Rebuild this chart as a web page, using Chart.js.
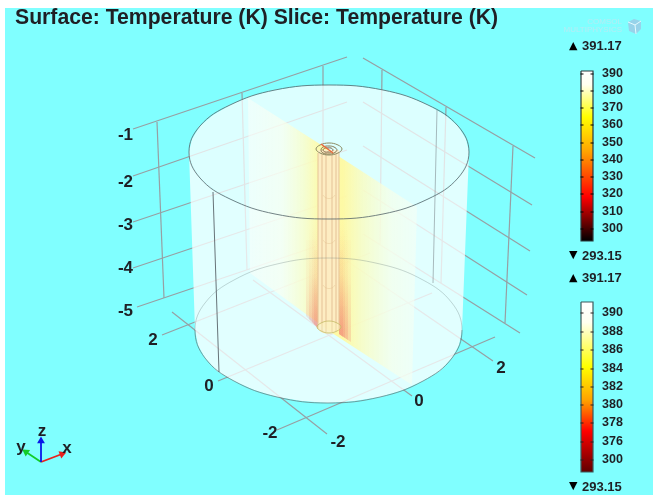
<!DOCTYPE html>
<html>
<head>
<meta charset="utf-8">
<script src="https://cdn.jsdelivr.net/npm/chart.js@4"></script>
<style>
    html, body { margin: 0; padding: 0; background: #fff; width: 653px; height: 495px; overflow: hidden; }
    #backdrop { position: absolute; left: 5px; top: 8px; width: 648px; height: 487px; background: #80ffff; }
    #plot { position: absolute; left: 0; top: 0; }
</style>
</head>
<body>
<div id="backdrop"></div>
<canvas id="plot" width="653" height="495"></canvas>
<script>
const titleText = 'Surface: Temperature (K) Slice: Temperature (K)';

const zTicks = ['-1', '-2', '-3', '-4', '-5'];
const zTickAt = [[133, 135], [133, 182], [133, 225], [133, 268], [133, 311]];
const floorTicks = ['2', '0', '-2', '-2', '0', '2'];
const floorTickAt = [[153, 340], [209, 386], [270, 433], [338, 442], [419, 401], [501, 368]];

const surfaceTicks = ['390', '380', '370', '360', '350', '340', '330', '320', '310', '300'];
const surfaceTickY = [74, 91, 108, 125, 143, 160, 177, 194, 212, 229];
const sliceTicks = ['390', '388', '386', '384', '382', '380', '378', '376', '300'];
const sliceTickY = [313, 332, 350, 369, 387, 405, 423, 442, 460];
const maxLabel = '391.17';
const minLabel = '293.15';

const leftWallLines = [
    [[133, 129], [347, 57]], [[133, 176], [347, 102]], [[133, 222], [347, 150]],
    [[133, 268], [347, 196]], [[137, 307], [347, 236]],
    [[157, 122], [164, 298]], [[242, 93], [247, 270]], [[323, 66], [323, 243]],
];
const rightWallLines = [
    [[363, 58], [535, 158]], [[363, 102], [532, 205]], [[363, 146], [530, 251]],
    [[363, 190], [527, 295]], [[363, 234], [520, 333]],
    [[382, 70], [380, 245]], [[446, 107], [441, 283]], [[513, 146], [505, 323]],
];
const floorLines = [
    [[162, 335], [370, 253]], [[218, 381], [432, 293]], [[277, 430], [495, 337]],
    [[172, 312], [327, 434]], [[253, 280], [412, 396]], [[347, 261], [493, 361]],
];

// rims run one step past each end, those end steps are hidden so the curve closes clean
const topRim = [[458, 126], [469, 152], [458, 178], [428, 199], [383, 214], [329, 219], [275, 214], [230, 199], [200, 178],
    [189, 152], [200, 126], [230, 105], [275, 90], [329, 85], [383, 90], [428, 105], [458, 126], [469, 152], [458, 178]];
const bottomRimBack = [[205, 358], [195, 330], [205, 303], [234, 280], [277, 264], [328, 258], [380, 264], [423, 280], [452, 303], [462, 330], [452, 358]];
const bottomRimFront = [[452, 303], [462, 330], [452, 358], [423, 381], [380, 397], [328, 403], [277, 397], [234, 381], [205, 358], [195, 330], [205, 303]];
const topDisc = [[469, 152], [466, 165], [458, 178], [445, 189], [428, 199], [407, 208], [383, 214], [356, 218], [329, 219],
    [302, 218], [275, 214], [251, 208], [230, 199], [213, 189], [200, 178], [192, 165], [189, 152],
    [192, 139], [200, 126], [213, 115], [230, 105], [251, 96], [275, 90], [302, 86], [329, 85],
    [356, 86], [383, 90], [407, 96], [428, 105], [445, 115], [458, 126], [466, 139], [469, 152]];
const shellOutline = [[189, 152], [192, 165], [200, 178], [213, 189], [230, 199], [251, 208], [275, 214], [302, 218], [329, 219],
    [356, 218], [383, 214], [407, 208], [428, 199], [445, 189], [458, 178], [466, 165], [469, 152],
    [462, 330], [459, 345], [452, 358], [440, 371], [423, 381], [403, 390], [380, 397], [354, 401], [328, 403],
    [302, 401], [277, 397], [254, 390], [234, 381], [217, 371], [205, 358], [198, 345], [195, 330], [189, 152]];
const shellEdgeLeft = [[213, 192], [219, 372]];
const shellEdgeRight = [[437, 110], [433, 283]];

const slicePlane = [[248, 98], [329, 150], [417, 207], [412, 385], [329, 331], [250, 273], [248, 98]];
const hotBands = [
    [[[306, 240], [318, 240], [318, 328], [306, 316]], [[339, 240], [351, 240], [351, 342], [339, 334]]],
    [[[309, 230], [318, 230], [318, 328], [309, 319]], [[339, 230], [348, 230], [348, 340], [339, 334]]],
    [[[312, 220], [318, 220], [318, 328], [312, 322]], [[339, 220], [345, 220], [345, 338], [339, 334]]],
    [[[314, 250], [318, 250], [318, 328], [314, 324]], [[339, 250], [343, 250], [343, 337], [339, 334]]],
];

const tubeBody = [[318, 150], [318, 150], [339, 150], [339, 150], [339, 329], [339, 329], [334, 333], [323, 333], [318, 329], [318, 329], [318, 150]];
const tubeRibs = [[[318, 153], [318, 329]], [[322, 154], [322, 331]], [[326, 155], [326, 332]], [[332, 155], [332, 332]], [[336, 154], [336, 331]], [[339, 153], [339, 329]]];
const tubeHoops = [
    [[323, 195], [326, 198], [332, 198], [335, 195]],
    [[323, 240], [326, 243], [332, 243], [335, 240]],
    [[323, 285], [326, 288], [332, 288], [335, 285]],
];
const ringOuter = [[338, 145], [342, 149], [338, 153], [329, 155], [320, 153], [316, 149], [320, 145], [329, 143], [338, 145], [342, 149], [338, 153]];
const ringMiddle = [[334, 147], [337, 150], [334, 153], [329, 154], [323, 153], [321, 150], [323, 147], [329, 146], [334, 147], [337, 150], [334, 153]];
const ringInner = [[331, 148], [333, 150], [331, 152], [328, 152], [325, 152], [323, 150], [325, 148], [328, 148], [331, 148], [333, 150], [331, 152]];
const ringCut = [[321, 144], [333, 153]];
const footOuter = [[337, 323], [341, 327], [337, 331], [329, 333], [321, 331], [317, 327], [321, 323], [329, 321], [337, 323], [341, 327], [337, 331]];

const surfaceBar = [[581, 71], [593, 71], [593, 241], [581, 241], [581, 71]];
const sliceBar = [[581, 302], [593, 302], [593, 472], [581, 472], [581, 302]];

const triadOrigin = [41, 462];
const triadTips = { x: [62, 454], y: [26, 452], z: [41, 441] };

const logoCube = [[628, 22], [634, 19], [641, 21], [641, 29], [636, 34], [629, 31], [628, 22]];
const logoCubeEdges = [[[628, 22], [635, 25], [641, 21]], [[635, 25], [636, 34]]];

// --- helpers ---
const toPoints = (list) => list.map(([x, y]) => ({ x: x, y: y }));

const layers = [];
function addLayer(list, options) {
    layers.push(Object.assign({
        data: toPoints(list),
        showLine: true,
        pointRadius: 0,
        borderWidth: 1,
        borderColor: 'rgba(0,0,0,0)',
        fill: false,
        tension: 0,
        order: -layers.length,
    }, options));
}

// a smooth curve whose first and last steps are only there to shape the ends
function addCurve(list, color) {
    const lastIndex = list.length - 1;
    addLayer(list, {
        borderColor: color,
        tension: 0.4,
        segment: {
            borderColor: (ctx) => (ctx.p0DataIndex === 0 || ctx.p1DataIndex === lastIndex ? 'rgba(0,0,0,0)' : undefined),
        },
    });
}

function verticalGradient(y0, y1, stops) {
    return function (context) {
        const chart = context.chart;
        if (!chart.chartArea) {
            return 'rgba(0,0,0,0)';
        }
        const sy = chart.scales.y;
        const g = chart.ctx.createLinearGradient(0, sy.getPixelForValue(y0), 0, sy.getPixelForValue(y1));
        stops.forEach((s) => g.addColorStop(s[0], s[1]));
        return g;
    };
}

function horizontalGradient(x0, x1, stops) {
    return function (context) {
        const chart = context.chart;
        if (!chart.chartArea) {
            return 'rgba(0,0,0,0)';
        }
        const sx = chart.scales.x;
        const g = chart.ctx.createLinearGradient(sx.getPixelForValue(x0), 0, sx.getPixelForValue(x1), 0);
        stops.forEach((s) => g.addColorStop(s[0], s[1]));
        return g;
    };
}

// --- back to front ---
const gridColor = '#979fa3';
leftWallLines.concat(rightWallLines, floorLines).forEach((line) => {
    addLayer(line, { borderColor: gridColor, borderWidth: 1.2 });
});

// translucent shell, the grid shows faintly through it
addLayer(shellOutline, { fill: 'shape', backgroundColor: 'rgba(255,255,255,0.76)' });
addLayer(topDisc, { fill: 'shape', backgroundColor: 'rgba(255,255,255,0.72)' });

addLayer(slicePlane, {
    fill: 'shape',
    backgroundColor: horizontalGradient(248, 417, [
        [0, 'rgba(250,255,250,0.55)'],
        [0.2, 'rgba(250,255,240,0.7)'],
        [0.33, 'rgba(250,253,200,0.8)'],
        [0.44, 'rgba(255,249,160,0.95)'],
        [0.56, 'rgba(255,249,160,0.95)'],
        [0.68, 'rgba(248,252,195,0.85)'],
        [0.85, 'rgba(245,255,235,0.75)'],
        [1, 'rgba(245,255,245,0.6)'],
    ]),
});

const hotFade = verticalGradient(220, 330, [[0, 'rgba(240,130,100,0)'], [0.5, 'rgba(240,140,110,0.07)'], [1, 'rgba(240,120,110,0.24)']]);
hotBands.forEach((pair) => {
    pair.forEach((band) => addLayer(band, { fill: 'shape', backgroundColor: hotFade }));
});

addLayer(tubeBody, { fill: 'shape', backgroundColor: 'rgba(253,235,200,0.85)', tension: 0.4 });
tubeRibs.forEach((rib) => addLayer(rib, { borderColor: 'rgba(232,195,150,0.4)' }));
tubeHoops.forEach((hoop) => addLayer(hoop, { borderColor: 'rgba(225,190,140,0.4)', tension: 0.4 }));
addLayer(footOuter, { fill: 'shape', backgroundColor: 'rgba(250,250,190,0.35)', tension: 0.4 });
addCurve(footOuter, 'rgba(190,180,90,0.7)');

addCurve(ringOuter, '#8b8a62');
addCurve(ringMiddle, '#85754f');
addCurve(ringInner, '#7c5f45');
addLayer(ringCut, { borderColor: '#ec6a3a', borderWidth: 1.4 });

addCurve(bottomRimBack, 'rgba(95,115,115,0.3)');
addCurve(bottomRimFront, 'rgba(95,115,115,0.7)');
addCurve(topRim, 'rgba(85,100,105,0.8)');
addLayer(shellEdgeLeft, { borderColor: 'rgba(90,100,105,0.9)' });
addLayer(shellEdgeRight, { borderColor: 'rgba(120,130,135,0.55)' });

// colour bars
addLayer(surfaceBar, {
    fill: 'shape',
    borderColor: '#2d3a3c',
    borderWidth: 1.2,
    backgroundColor: verticalGradient(71, 241, [
        [0, '#ffffff'], [0.08, '#fffff0'], [0.27, '#ffff00'], [0.47, '#ffa500'],
        [0.74, '#ff0000'], [1, '#000000'],
    ]),
});
addLayer(sliceBar, {
    fill: 'shape',
    borderColor: '#3d5a5c',
    borderWidth: 1.2,
    backgroundColor: verticalGradient(302, 472, [
        [0, '#ffffff'], [0.12, '#fffff0'], [0.38, '#ffff00'], [0.58, '#ffa000'],
        [0.76, '#ff0000'], [1, '#600000'],
    ]),
});
[[surfaceTickY, '#000000'], [sliceTickY, '#2a2020']].forEach(([ys, color]) => {
    [582, 592].forEach((x) => {
        addLayer(ys.map((y) => [x, y]), {
            showLine: false, pointStyle: 'line', pointRadius: 1.5, borderColor: color, pointBorderColor: color, pointBorderWidth: 1,
        });
    });
});

// axis triad
[['x', '#e8211d', 69], ['y', '#12cc28', -56], ['z', '#0a18e8', 0]].forEach(([axis, color, turn]) => {
    addLayer([triadOrigin, triadTips[axis]], {
        borderColor: color,
        borderWidth: 1.8,
        pointStyle: 'triangle',
        pointRadius: [0, 4.5],
        pointRotation: [0, turn],
        pointBackgroundColor: color,
        pointBorderColor: color,
        pointBorderWidth: 0,
    });
});

// logo
addLayer(logoCube, { fill: 'shape', backgroundColor: '#97d3ea' });
logoCubeEdges.forEach((edge) => addLayer(edge, { borderColor: '#e4fbff' }));

// --- text goes through the same scales ---
const textPlugin = {
    id: 'pictureText',
    afterDatasetsDraw(chart) {
        const c = chart.ctx;
        const sx = chart.scales.x;
        const sy = chart.scales.y;
        const put = (text, x, y, font, color, align) => {
            c.font = font;
            c.fillStyle = color;
            c.textAlign = align || 'left';
            c.textBaseline = 'middle';
            c.fillText(text, sx.getPixelForValue(x), sy.getPixelForValue(y));
        };
        c.save();
        const ink = '#1f1f24';
        const sans = '"Liberation Sans", Arial, sans-serif';
        put(titleText, 15, 18, 'bold 21.2px ' + sans, ink);

        zTicks.forEach((t, i) => put(t, zTickAt[i][0], zTickAt[i][1], 'bold 17px ' + sans, ink, 'right'));
        floorTicks.forEach((t, i) => put(t, floorTickAt[i][0], floorTickAt[i][1], 'bold 17px ' + sans, ink, 'center'));

        surfaceTicks.forEach((t, i) => put(t, 602, surfaceTickY[i], 'bold 12.5px ' + sans, ink));
        sliceTicks.forEach((t, i) => put(t, 602, sliceTickY[i], 'bold 12.5px ' + sans, ink));

        const marks = 'bold 11px "DejaVu Sans", sans-serif';
        put('▲', 569, 46, marks, '#000');
        put(maxLabel, 582, 46, 'bold 13px ' + sans, ink);
        put('▼', 569, 255, marks, '#000');
        put(minLabel, 582, 256, 'bold 13px ' + sans, ink);
        put('▲', 569, 278, marks, '#000');
        put(maxLabel, 582, 278, 'bold 13px ' + sans, ink);
        put('▼', 569, 486, marks, '#000');
        put(minLabel, 582, 487, 'bold 13px ' + sans, ink);

        put('x', 67, 448, 'bold 17px ' + sans, ink, 'center');
        put('y', 21, 447, 'bold 17px ' + sans, ink, 'center');
        put('z', 42, 431, 'bold 17px ' + sans, ink, 'center');

        put('COMSOL', 622, 22, '8px ' + sans, '#b4ecf4', 'right');
        put('MULTIPHYSICS', 622, 30, '8px ' + sans, '#b4ecf4', 'right');
        c.restore();
    },
};

new Chart(document.getElementById('plot').getContext('2d'), {
    type: 'scatter',
    data: { datasets: layers },
    plugins: [textPlugin],
    options: {
        responsive: false,
        animation: false,
        clip: false,
        layout: { padding: 0, autoPadding: false },
        plugins: { legend: { display: false }, tooltip: { enabled: false }, title: { display: false } },
        scales: {
            x: { type: 'linear', display: false, min: 0, max: 653 },
            y: { type: 'linear', display: false, min: 0, max: 495, reverse: true },
        },
    },
});
</script>
</body>
</html>
